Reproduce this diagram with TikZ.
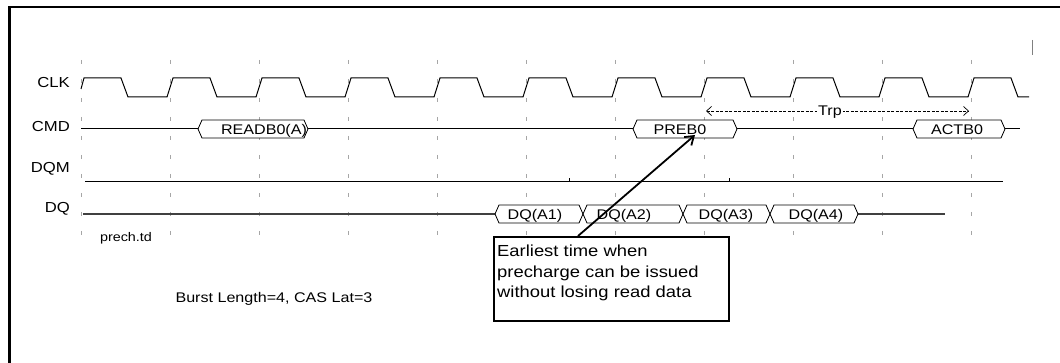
\documentclass[tikz,border=0pt]{standalone}
\usepackage{fontspec}
\usepackage{graphicx}
\setmainfont{Liberation Sans}
\usetikzlibrary{arrows.meta}
\newcommand{\sx}[1]{\scalebox{1.15}[1]{#1}}
\tikzset{
  sig/.style={line width=1pt, black},
  dqsig/.style={line width=1.3pt, black!75},
  bus/.style={draw=black, line width=0.8pt, fill=white},
  gridtick/.style={line width=0.8pt, gray!70, dash pattern=on 4pt off 15pt},
  lbl/.style={inner sep=0pt, font=\fontsize{14.5}{16}\selectfont, anchor=base east},
  bustxt/.style={inner sep=0pt, font=\fontsize{14}{16}\selectfont, anchor=base},
  notetxt/.style={inner sep=0pt, font=\fontsize{16}{20}\selectfont, anchor=base west},
  frame/.style={line width=2.5pt, black},
  trp/.style={line width=0.7pt, dash pattern=on 3pt off 1.5pt, {Straight Barb[length=5pt,width=9pt]}-{Straight Barb[length=5pt,width=9pt]}},
  callarrow/.style={line width=1.8pt, -{Straight Barb[length=8pt,width=11pt]}},
}
\newcommand{\busseg}[3]{%
  \path[bus] (#1,#3) -- ({#1+4},{#3-9}) -- ({#2-4},{#3-9}) -- (#2,#3) -- ({#2-4},{#3+9}) -- ({#1+4},{#3+9}) -- cycle;}
\begin{document}
\begin{tikzpicture}[x=1pt,y=-1pt]
\useasboundingbox (0,0) rectangle (1060,363);
% frame
\draw[frame] (9.5,363) -- (9.5,7) -- (1060,7);
\draw[line width=0.8pt, gray] (1032,40) -- (1032,55);
% grid ticks
\foreach \k in {0,...,10} \draw[gridtick] ({81+89*\k},60) -- ({81+89*\k},236);
% labels
\node[lbl] (lclk) at (70,88) {\sx{CLK}};
\node[lbl] (lcmd) at (70,132) {\sx{CMD}};
\node[lbl] (ldqm) at (70,173) {\sx{DQM}};
\node[lbl] (ldq) at (70,213) {\sx{DQ}};
% clock
\draw[sig] (81,89) -- (84,78) -- (121,78) -- (128,97)
  \foreach \k in {1,...,10}{ -- ({81+89*\k-3},97) -- ({81+89*\k+3},78) -- ({81+89*\k+40},78) -- ({81+89*\k+47},97)}
  -- (1029,97);
% CMD
\draw[sig] (81,129) -- (1020,129);
\busseg{198}{308}{129}
\busseg{633}{737}{129}
\busseg{913}{1005}{129}
\node[bustxt] (rd) at (264,135) {\sx{READB0(A)}};
\node[bustxt] (pre) at (680,135) {\sx{PREB0}};
\node[bustxt] (act) at (957,135) {\sx{ACTB0}};
% Trp
\coordinate (trpl) at (706,111);
\coordinate (trpr) at (969,111);
\draw[trp] (trpl) -- (trpr);
\node[bustxt, fill=white, inner xsep=1pt] (trptxt) at (830,115.5) {\sx{Trp}};
% DQM
\draw[sig] (85,182) -- (1003,182);
\draw[sig] (569,182) -- (569,178);
\draw[sig] (729,182) -- (729,178);
% DQ
\draw[dqsig] (83,214) -- (945,214);
\busseg{495}{583}{214}
\busseg{583}{683}{214}
\busseg{683}{770}{214}
\busseg{770}{858}{214}
\node[bustxt] (dq1) at (535,220) {\sx{DQ(A1)}};
\node[bustxt] (dq2) at (624,220) {\sx{DQ(A2)}};
\node[bustxt] (dq3) at (726,220) {\sx{DQ(A3)}};
\node[bustxt] (dq4) at (816,220) {\sx{DQ(A4)}};
% texts
\node[inner sep=0pt, font=\fontsize{12.5}{14}\selectfont, anchor=base] (fname) at (126,242) {\sx{prech.td}};
\node[bustxt] (burst) at (274,302) {\sx{Burst Length=4, CAS Lat=3}};
% callout
\node[draw, line width=2pt, fill=white, minimum width=235pt, minimum height=84pt, anchor=north west, inner sep=0pt] (note) at (493,236) {};
\node[notetxt] (n1) at (497,257) {\sx{Earliest time when}};
\node[notetxt] (n2) at (497,277.5) {\sx{precharge can be issued}};
\node[notetxt] (n3) at (497,298) {\sx{without losing read data}};
\coordinate (as) at (578,236);
\coordinate (at) at (695,135);
\draw[callarrow] (as) -- (at);
\end{tikzpicture}
\end{document}
